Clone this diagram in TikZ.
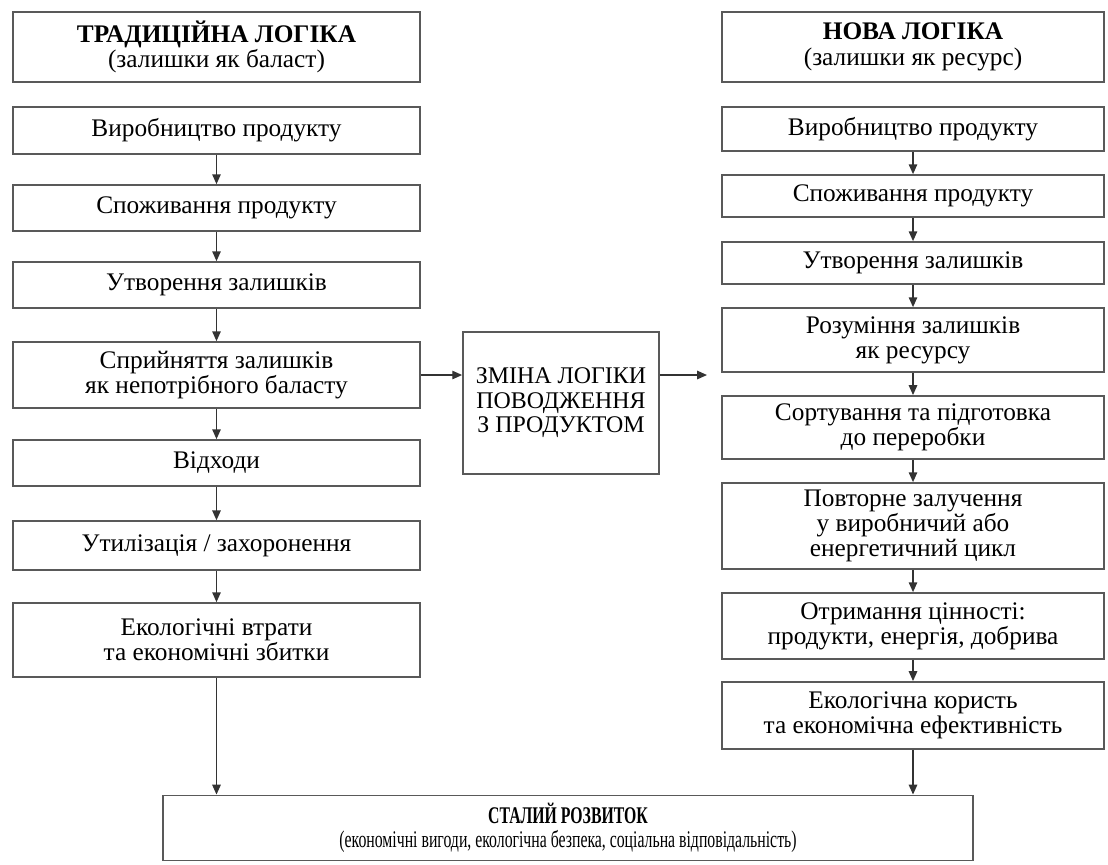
\documentclass[tikz,border=0pt]{standalone}
\usepackage{fontspec}
\setmainfont{Liberation Serif}
\newfontfamily\narrowfont{Liberation Serif}[FakeStretch=0.66]
\usetikzlibrary{arrows.meta,positioning,calc}

\begin{document}
\begin{tikzpicture}[x=0.025cm, y=-0.025cm, >={Triangle[length=7pt,width=6pt]},
    box/.style={draw=black!65, line width=1.2pt, align=center,
                font=\fontsize{18}{18}\selectfont, inner sep=2pt},
    lbox/.style={box, minimum width=10.18cm, minimum height=#1},
    rbox/.style={box, minimum width=9.55cm, minimum height=#1},
    arr/.style={->, line width=1pt, black!80}]

  \useasboundingbox (0,0) rectangle (1108,864);

  %% Left column: traditional logic
  \node[lbox=1.75cm] (ltitle) at (216.5,47)
    {\textbf{ТРАДИЦІЙНА ЛОГІКА}\\(залишки як баласт)};
  \node[lbox=1.18cm] (l1) at (216.5,130.5) {Виробництво продукту};
  \node[lbox=1.15cm] (l2) at (216.5,208)   {Споживання продукту};
  \node[lbox=1.15cm] (l3) at (216.5,285)   {Утворення залишків};
  \node[lbox=1.65cm] (l4) at (216.5,375)
    {Сприйняття залишків\\як непотрібного баласту};
  \node[lbox=1.15cm] (l5) at (216.5,463)   {Відходи};
  \node[lbox=1.22cm] (l6) at (216.5,545.5) {Утилізація / захоронення};
  \node[lbox=1.85cm] (l7) at (216.5,640)
    {Екологічні втрати\\та економічні збитки};

  %% Right column: new logic
  \node[rbox=1.75cm] (rtitle) at (913,47)
    {\textbf{НОВА ЛОГІКА}\\(залишки як ресурс)};
  \node[rbox=1.1cm]  (r1) at (913,129)   {Виробництво продукту};
  \node[rbox=1.05cm] (r2) at (913,196)   {Споживання продукту};
  \node[rbox=1.05cm] (r3) at (913,263)   {Утворення залишків};
  \node[rbox=1.6cm]  (r4) at (913,340)
    {Розуміння залишків\\як ресурсу};
  \node[rbox=1.58cm] (r5) at (913,427.5)
    {Сортування та підготовка\\до переробки};
  \node[rbox=2.15cm] (r6) at (913,526)
    {Повторне залучення\\у виробничий або\\енергетичний цикл};
  \node[rbox=1.65cm] (r7) at (913,626)
    {Отримання цінності:\\продукти, енергія, добрива};
  \node[rbox=1.68cm] (r8) at (913,715.5)
    {Екологічна користь\\та економічна ефективність};

  %% Middle box
  \node[box, font=\fontsize{17}{17.5}\selectfont,
        minimum width=4.9cm, minimum height=3.55cm] (chg) at (561,403)
    {ЗМІНА ЛОГІКИ\\ПОВОДЖЕННЯ\\З ПРОДУКТОМ};

  %% Bottom box
  \node[box, font=\fontsize{17}{17}\narrowfont,
        minimum width=20.25cm, minimum height=1.63cm] (sum) at (568,828)
    {\textbf{СТАЛИЙ РОЗВИТОК}\\(економічні вигоди, екологічна безпека, соціальна відповідальність)};

  %% Arrows in both columns
  \foreach \a/\b in {l1/l2,l2/l3,l3/l4,l4/l5,l5/l6,l6/l7,
                     r1/r2,r2/r3,r3/r4,r4/r5,r5/r6,r6/r7,r7/r8}
    \draw[arr] (\a.south) -- (\b.north);

  %% Arrows to the bottom box
  \draw[arr] (l7.south) -- (l7.south |- sum.north);
  \draw[arr] (r8.south) -- (r8.south |- sum.north);

  %% Arrows through the middle box
  \coordinate (rin) at (707,375);
  \draw[arr] (l4.east) -- (l4.east -| chg.west);
  \draw[arr] (chg.east |- l4.east) -- (rin);
\end{tikzpicture}
\end{document}
